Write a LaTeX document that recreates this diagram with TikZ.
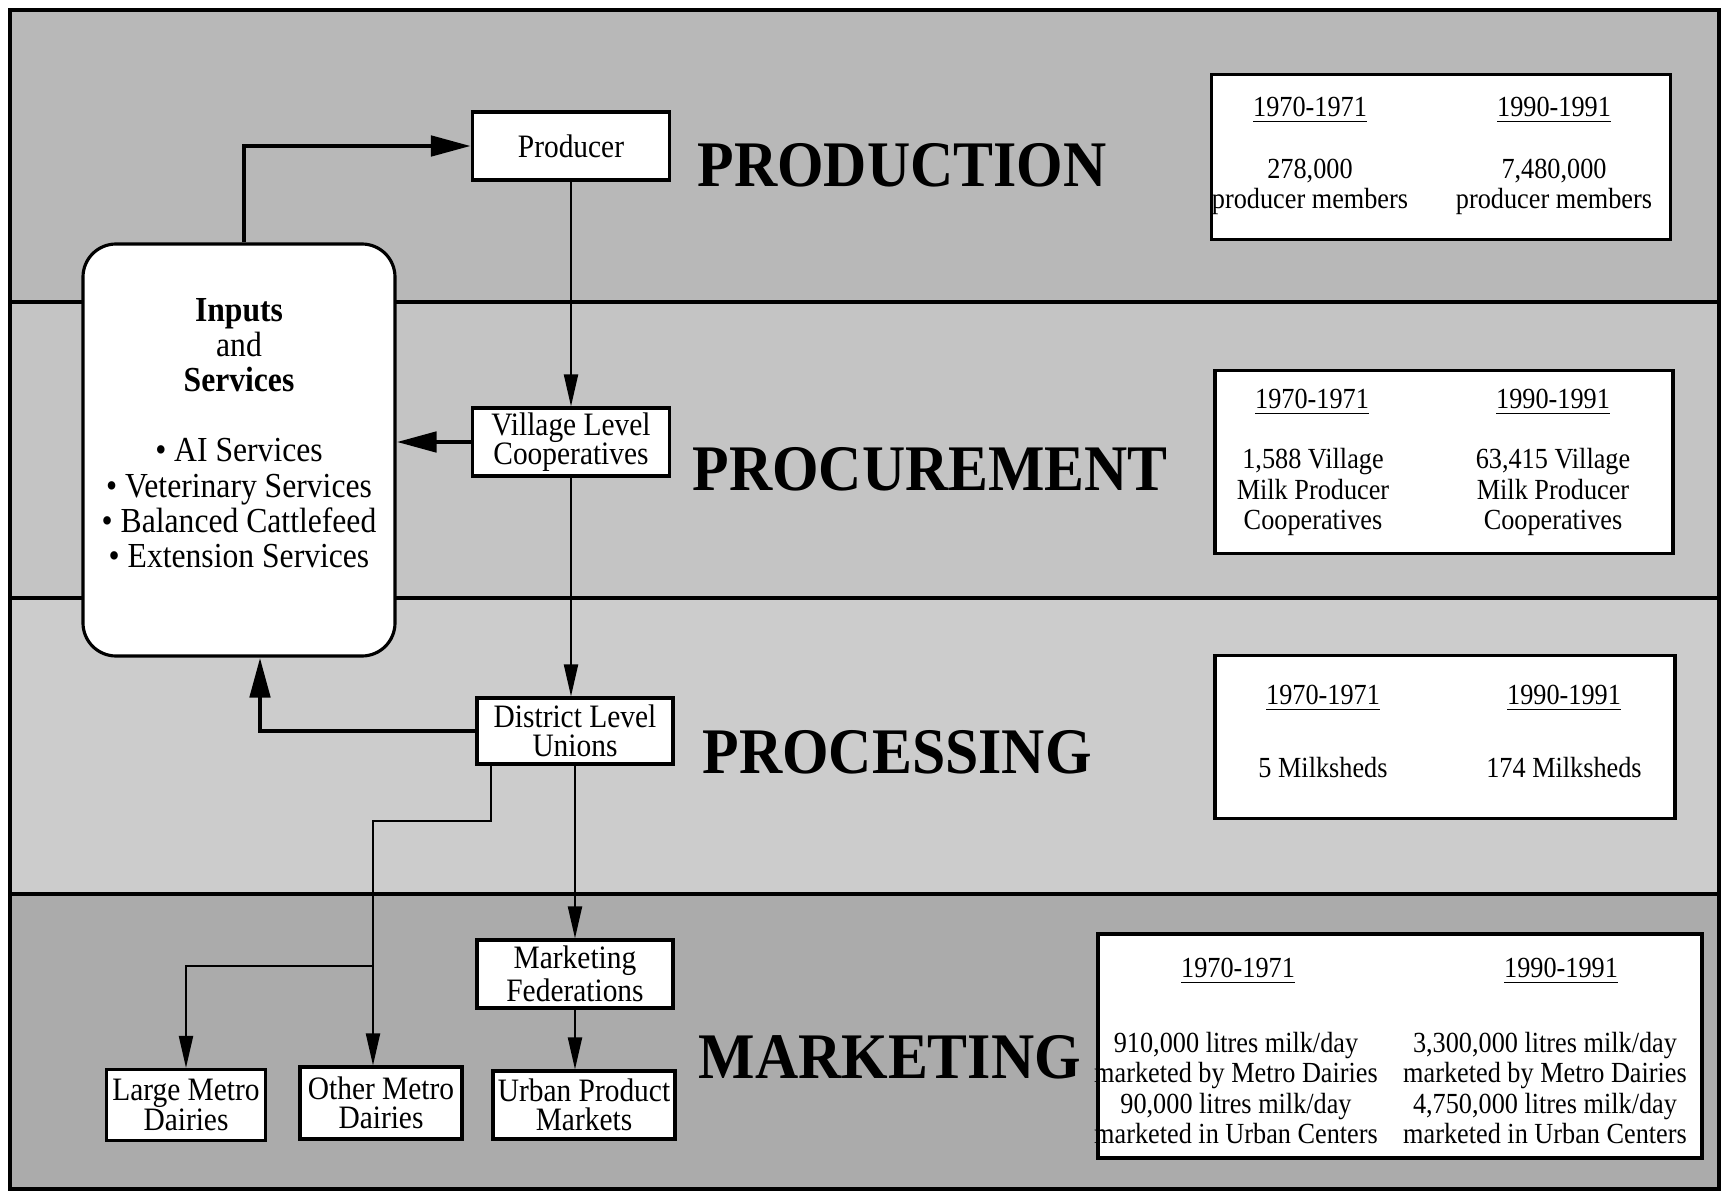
\documentclass[tikz,border=0pt]{standalone}
\usepackage{fontspec}
\setmainfont[FakeStretch=0.9]{Liberation Serif}
\newfontfamily\headfont[FakeStretch=0.92]{Liberation Serif}
\usetikzlibrary{arrows.meta,calc}

% shades of the four bands
\definecolor{prodshade}{gray}{0.72}
\definecolor{procshade}{gray}{0.77}
\definecolor{proc2shade}{gray}{0.80}
\definecolor{markshade}{gray}{0.67}

\tikzset{
  unit/.style={draw, fill=white, line width=0.9pt, inner sep=0pt, align=center,
    font=\fontsize{9.3}{8.4}\selectfont},
  stage/.style={anchor=west, inner sep=0pt,
    font=\headfont\bfseries\fontsize{18.5}{20}\selectfont},
  statbox/.style={draw, fill=white, line width=0.9pt, inner sep=0pt},
  stat/.style={align=center, inner sep=0pt, font=\fontsize{8.3}{8.6}\selectfont},
  flow/.style={line width=0.6pt, -{Triangle[length=3.2mm,width=1.4mm]}},
  feed/.style={line width=1.4pt, -{Triangle[length=4mm,width=2mm]}},
}

\begin{document}
\begin{tikzpicture}[x=0.1mm,y=-0.1mm]
    \useasboundingbox (0,0) rectangle (1721,1191);

    % the four bands
    \fill[prodshade]  (10,10)  rectangle (1719,302);
    \fill[procshade]  (10,302) rectangle (1719,598);
    \fill[proc2shade] (10,598) rectangle (1719,894);
    \fill[markshade]  (10,894) rectangle (1719,1189);
    \draw[line width=1pt] (10,302) -- (1719,302);
    \draw[line width=1pt] (10,598) -- (1719,598);
    \draw[line width=1pt] (10,894) -- (1719,894);
    \draw[line width=1pt] (10,10) rectangle (1719,1189);

    % stage names
    \node[stage] (production)  at (697,165)  {PRODUCTION};
    \node[stage] (procurement) at (692,469)  {PROCUREMENT};
    \node[stage] (processing)  at (702,752)  {PROCESSING};
    \node[stage] (marketing)   at (698,1057) {MARKETING};

    % chain of organisations
    \node[unit, minimum width=19.7mm, minimum height=6.8mm] (producer) at (571,146) {Producer};
    \node[unit, minimum width=19.7mm, minimum height=6.8mm] (village) at (571,442) {Village Level\\Cooperatives};
    \node[unit, minimum width=19.6mm, minimum height=6.6mm] (district) at (575,731) {District Level\\Unions};
    \node[unit, minimum width=19.6mm, minimum height=6.8mm] (federation) at (575,974) {Marketing\\Federations};
    \node[unit, minimum width=18.2mm, minimum height=6.8mm] (urban) at (584,1105) {Urban Product\\Markets};
    \node[unit, minimum width=15.9mm, minimum height=7.1mm] (large) at (186,1105) {Large Metro\\Dairies};
    \node[unit, minimum width=16.2mm, minimum height=7.2mm] (other) at (381,1103) {Other Metro\\Dairies};

    % inputs and services
    \node[unit, rounded corners=3.3mm, minimum width=31.2mm, minimum height=41.2mm] (inputs) at (239,450) {};
    \node[align=center, inner sep=0pt, font=\fontsize{10}{10}\selectfont] (services) at (239,433)
        {\textbf{Inputs}\\and\\\textbf{Services}\\[10pt]
         \textbullet\ AI Services\\
         \textbullet\ Veterinary Services\\
         \textbullet\ Balanced Cattlefeed\\
         \textbullet\ Extension Services};

    % connectors
    \draw[feed] ([xshift=0.5mm]inputs.north) |- (producer.west);
    \draw[flow] (producer.south) -- (village.north);
    \draw[feed] (village.west) -- (village.west -| inputs.east);
    \draw[flow] (village.south) -- (village.south |- district.north);
    \draw[feed] (district.west) -| ([xshift=2.1mm]inputs.south);
    \draw[flow] (district.south) -- (federation.north);
    \draw[flow] (federation.south) -- (federation.south |- urban.north);
    \coordinate (split) at (373,821);
    \coordinate (fork) at (373,966);
    \draw[flow] ([xshift=1.6mm]district.south west) |- (split) -- (split |- other.north);
    \draw[flow] (fork) -| (large.north);

    % figures for 1970-71 and 1990-91
    \node[statbox, minimum width=45.9mm, minimum height=16.5mm] (prodstat) at (1441,157) {};
    \node[stat] at (1310,110) {\underline{1970-1971}};
    \node[stat] at (1554,110) {\underline{1990-1991}};
    \node[stat] at (1310,187) {278,000\\producer members};
    \node[stat] at (1554,187) {7,480,000\\producer members};

    \node[statbox, minimum width=45.8mm, minimum height=18.3mm] (procstat) at (1444,462) {};
    \node[stat] at (1312,402) {\underline{1970-1971}};
    \node[stat] at (1553,402) {\underline{1990-1991}};
    \node[stat] at (1313,492) {1,588 Village\\Milk Producer\\Cooperatives};
    \node[stat] at (1553,492) {63,415 Village\\Milk Producer\\Cooperatives};

    \node[statbox, minimum width=46mm, minimum height=16.3mm] (milkstat) at (1445,737) {};
    \node[stat] at (1323,698) {\underline{1970-1971}};
    \node[stat] at (1564,698) {\underline{1990-1991}};
    \node[stat] at (1323,768) {5 Milksheds};
    \node[stat] at (1564,768) {174 Milksheds};

    \node[statbox, minimum width=60.4mm, minimum height=22.4mm] (markstat) at (1400,1046) {};
    \node[stat] at (1238,971) {\underline{1970-1971}};
    \node[stat] at (1561,971) {\underline{1990-1991}};
    \node[stat] at (1236,1088) {910,000 litres milk/day\\marketed by Metro Dairies\\90,000 litres milk/day\\marketed in Urban Centers};
    \node[stat] at (1545,1088) {3,300,000 litres milk/day\\marketed by Metro Dairies\\4,750,000 litres milk/day\\marketed in Urban Centers};
\end{tikzpicture}
\end{document}
